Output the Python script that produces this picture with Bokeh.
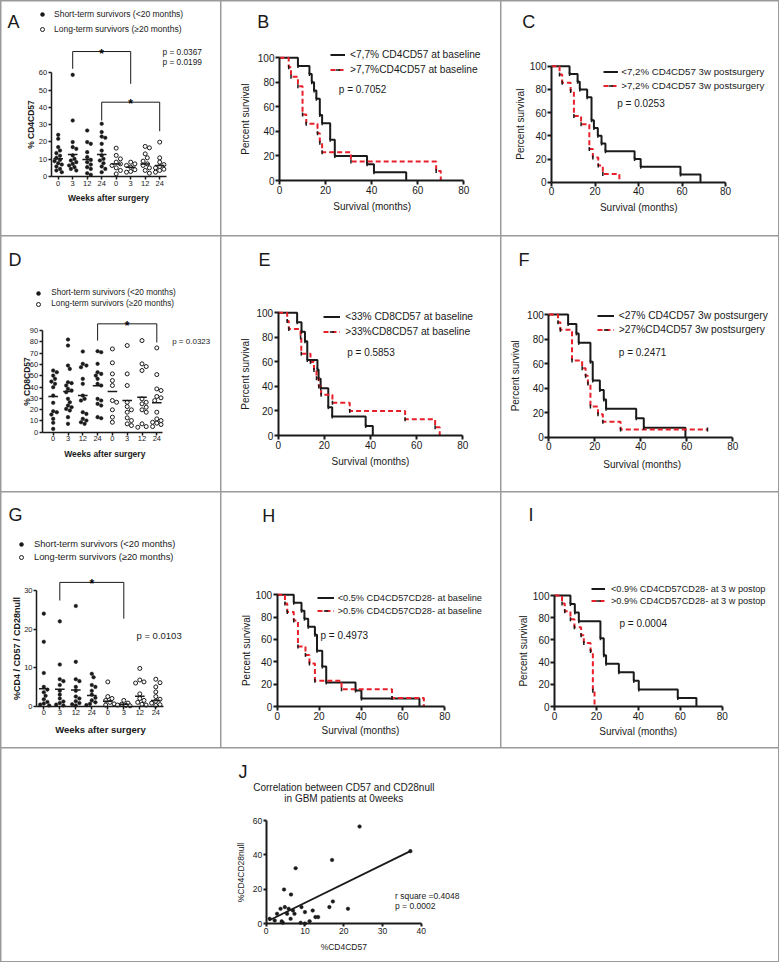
import numpy as np
from bokeh.plotting import figure
from bokeh.models import Label, Legend, LegendItem, FixedTicker, Range1d
from bokeh.layouts import row, column
from bokeh.embed import file_html
from bokeh.resources import INLINE

FONT = "Liberation Sans"
GREY = "#9a9a9a"
RED = "#e8202a"
INK = "#1a1a1a"

# ---------------- data ----------------
weeks = ["0", "3", "12", "24", "0", "3", "12", "24"]
scatter_legend = ["Short-term survivors (<20 months)", "Long-term survivors (\u226520 months)"]

# Panel A: % CD4CD57
a_short = [
    [24.1, 21.8, 17.0, 15.0, 13.5, 12.0, 10.8, 9.6, 8.9, 7.7, 6.9, 5.8, 4.4, 3.5, 2.5],
    [58.8, 32.4, 19.9, 17.0, 16.0, 12.2, 10.2, 9.3, 8.3, 7.3, 6.4, 5.4, 4.4, 3.5],
    [26.6, 19.9, 18.9, 14.1, 11.2, 9.6, 8.3, 6.9, 5.4, 4.4, 1.9, 1.0],
    [30.5, 25.7, 23.1, 22.4, 18.9, 15.0, 12.2, 10.2, 9.3, 7.7, 5.8, 4.4, 2.5],
]
a_long = [
    [16.4, 12.2, 10.2, 8.3, 7.3, 6.4, 5.0, 3.5, 1.5],
    [8.3, 7.3, 6.4, 5.4, 3.9, 2.9, 2.5],
    [17.4, 16.6, 13.1, 10.8, 8.9, 7.3, 6.4, 5.0, 3.5, 1.9],
    [19.9, 10.8, 8.3, 6.9, 5.8, 5.0, 4.2, 3.5, 2.5],
]
a_mean_short = [10.2, 12.7, 9.8, 12.7]
a_mean_long = [7.3, 5.4, 7.3, 6.4]
a_brackets = [[2, 6, 72.3, 62.3, 53.6], [4, 8, 43.0, 32.4, 26.2]]
a_pvalues = ["p = 0.0367", "p = 0.0199"]

# Panel D: % CD8CD57
d_short = [
    [54.6, 53.1, 50.1, 47.2, 44.8, 42.8, 39.8, 32.4, 26.0, 18.6, 17.7, 15.6, 11.8, 8.3, 2.9],
    [82.0, 76.7, 59.0, 56.0, 44.2, 43.4, 41.3, 38.3, 36.9, 35.4, 29.5, 26.5, 23.6, 22.1, 20.6, 19.2, 13.3, 7.4],
    [71.4, 60.5, 59.0, 57.5, 47.2, 42.8, 32.4, 29.5, 28.0, 17.7, 16.2, 11.8, 10.3, 8.8, 7.4],
    [71.7, 70.8, 60.5, 53.1, 51.6, 50.1, 47.2, 42.8, 41.3, 29.5, 28.0, 25.1, 23.6, 13.3, 12.4],
]
d_long = [
    [73.7, 61.4, 51.6, 45.7, 41.3, 28.0, 26.5, 19.8, 13.3, 8.8],
    [76.7, 51.6, 41.3, 26.5, 22.7, 19.8, 17.7, 12.7, 10.3, 7.4, 5.9],
    [81.1, 60.5, 58.1, 54.6, 29.5, 26.5, 25.1, 22.1, 19.8, 17.7, 7.4, 5.0, 4.4],
    [74.6, 51.0, 38.3, 36.9, 31.6, 30.4, 28.0, 17.7, 11.8, 10.3, 8.8, 8.0, 6.8, 5.0],
]
d_mean_short = [31.6, 36.0, 32.4, 41.0]
d_mean_long = [36.0, 28.0, 31.0, 26.0]
d_brackets = [[4, 8, 95.9, 81.0, 79.4]]
d_pvalues = ["p = 0.0323"]

# Panel G: %CD4 / CD57 / CD28null
g_short = [
    [24.0, 16.7, 8.6, 5.0, 4.3, 3.6, 2.7, 1.8, 1.1, 0.7, 0.4, 0.2],
    [22.0, 10.8, 7.0, 6.5, 5.5, 4.0, 3.0, 2.0, 1.2, 0.8, 0.4, 0.2],
    [26.0, 11.5, 7.0, 6.5, 5.0, 4.0, 2.5, 2.0, 1.3, 0.8, 0.5, 0.2],
    [8.4, 7.5, 5.5, 5.0, 4.0, 3.0, 2.2, 1.5, 1.0, 0.6, 0.3],
]
g_long = [
    [6.3, 2.5, 2.0, 1.5, 1.0, 0.6, 0.3],
    [1.5, 0.8, 0.5, 0.3, 0.2, 0.1],
    [9.8, 6.8, 6.3, 6.0, 3.2, 2.0, 1.5, 1.0, 0.5, 0.3],
    [7.0, 6.1, 5.0, 3.7, 2.5, 1.8, 1.3, 0.8, 0.4, 0.2],
]
g_mean_short = [4.5, 4.4, 4.2, 2.8]
g_mean_long = [1.3, 0.5, 2.6, 1.5]
g_brackets = [[2, 6, 32.1, 27.4, 22.7]]
g_pvalues = ["p = 0.0103"]

# Kaplan-Meier curves (time in months, percent survival)
b_lo_t = [0, 8, 13, 14, 15, 16, 17.5, 18.5, 22, 24, 38, 41, 55]
b_lo_s = [100, 93.3, 86.7, 80, 73.3, 66.7, 53.3, 46.7, 33.3, 20, 13.3, 6.7, 0]
b_hi_t = [0, 4, 5, 8, 10, 11.6, 16.5, 17.5, 18.5, 31, 68, 70]
b_hi_s = [100, 92.3, 84.6, 76.9, 53.8, 46.2, 38.5, 30.8, 23.1, 15.4, 7.7, 0]
b_labels = ["<7,7% CD4CD57 at baseline", ">7,7%CD4CD57 at baseline", "p = 0.7052"]

c_lo_t = [0, 8.3, 12, 13, 16.4, 18.4, 19.5, 21.3, 23, 24.8, 38.2, 41, 59.3, 68.5]
c_lo_s = [100, 93.3, 86.7, 80, 73.3, 53.3, 46.7, 40, 33.3, 26.7, 20, 13.3, 6.7, 0]
c_hi_t = [0, 3.7, 4.9, 8.8, 10.3, 13.6, 17.4, 19, 21.5, 23.6, 31.2]
c_hi_s = [100, 92.9, 85.7, 78.6, 57.1, 50, 28.6, 21.4, 14.3, 7.1, 0]
c_labels = ["<7,2% CD4CD57 3w postsurgery", ">7,2% CD4CD57 3w postsurgery", "p = 0.0253"]

e_lo_t = [0, 8.2, 10.1, 11.6, 12.6, 17, 17.5, 18.4, 21.7, 23.4, 37.9, 41]
e_lo_s = [100, 92.3, 84.6, 76.9, 61.5, 53.8, 46.2, 38.5, 23.1, 15.4, 7.7, 0]
e_hi_t = [0, 3.9, 4.6, 9.7, 10, 14, 15.5, 16.6, 17.6, 18.6, 23.5, 31, 55, 68, 70]
e_hi_s = [100, 93.3, 86.7, 80, 66.7, 60, 53.3, 46.7, 40, 33.3, 26.7, 20, 13.3, 6.7, 0]
e_labels = ["<33% CD8CD57 at baseline", ">33%CD8CD57 at baseline", "p = 0.5853"]

f_lo_t = [0, 8.4, 12, 13, 18.1, 19.1, 22.2, 23.9, 24.9, 38, 41.3, 59.4]
f_lo_s = [100, 92.3, 84.6, 76.9, 61.5, 46.2, 38.5, 30.8, 23.1, 15.4, 7.7, 0]
f_hi_t = [0, 4, 5, 10.1, 14.5, 16, 17, 18.1, 21.4, 23.5, 31.2, 69]
f_hi_s = [100, 93.75, 87.5, 62.5, 56.25, 50, 43.75, 25, 18.75, 12.5, 6.25, 6.25]
f_labels = ["<27% CD4CD57 3w postsurgery", ">27%CD4CD57 3w postsurgery", "p = 0.2471"]

h_lo_t = [0, 7.9, 11.6, 13, 14.8, 18, 19, 21.5, 23.4, 37.4, 40.2, 67.9]
h_lo_s = [100, 92.9, 85.7, 78.6, 71.4, 64.3, 50, 35.7, 21.4, 14.3, 7.1, 0]
h_hi_t = [0, 3.7, 4.8, 7.9, 9.9, 13.5, 15.4, 18, 30.7, 54.8, 70]
h_hi_s = [100, 92.3, 84.6, 76.9, 53.8, 46.2, 38.5, 23.1, 15.4, 7.7, 0]
h_labels = ["<0.5% CD4CD57CD28- at baseline", ">0.5% CD4CD57CD28- at baseline", "p = 0.4973"]

i_lo_t = [0, 7.6, 9.7, 11.6, 21.9, 23.5, 24.6, 30.7, 37.8, 40.2, 58.8, 67.7]
i_lo_s = [100, 92.3, 84.6, 76.9, 61.5, 46.2, 38.5, 30.8, 23.1, 15.4, 7.7, 0]
i_hi_t = [0, 3.6, 4.9, 7.6, 9.5, 12.7, 14, 17.2, 18.3, 19.1]
i_hi_s = [100, 92.9, 85.7, 78.6, 71.4, 64.3, 57.1, 50, 14.3, 0]
i_labels = ["<0.9% CD4CD57CD28- at 3 w postop", ">0.9% CD4CD57CD28- at 3 w postop", "p = 0.0004"]

# Panel J: correlation
j_x = [24.1, 37.2, 17.0, 7.6, 4.6, 6.4, 17.2, 16.3, 21.1, 3.7, 4.8, 5.8, 9.1, 6.9, 10.0,
       12.0, 2.8, 5.4, 7.3, 6.3, 0.9, 2.2, 4.0, 4.3, 8.9, 10.0, 11.2, 12.7, 13.4]
j_y = [56.5, 42.2, 37.1, 32.3, 19.9, 17.0, 13.0, 9.7, 8.7, 8.7, 9.7, 8.7, 9.7, 7.7, 6.8,
       7.7, 5.8, 5.8, 5.8, 2.9, 2.9, 1.9, 1.4, 0.6, 0.6, 0.2, 1.5, 3.9, 3.9]
j_fit_x = [0.7, 37.2]
j_fit_y = [1.9, 42.2]
j_title = ["Correlation between CD57 and CD28null", "in GBM patients at 0weeks"]
j_stats = ["r square =0.4048", "p = 0.0002"]

km_ticks_x = [0, 20, 40, 60, 80]
km_ticks_y = [0, 20, 40, 60, 80, 100]


# ---------------- helpers (positions in page pixels) ----------------
class Panel:
    def __init__(self, ox, oy, W, H, xmap, ymap):
        (self.xa, self.pxa), (xb, pxb) = xmap
        (self.ya, self.pya), (yb, pyb) = ymap
        self.kx = (xb - self.xa) / (pxb - self.pxa)
        self.ky = (yb - self.ya) / (pyb - self.pya)
        self.ox, self.oy, self.W, self.H = ox, oy, W, H
        p = figure(width=W, height=H,
                   x_range=Range1d(self.fx(ox), self.fx(ox + W)),
                   y_range=Range1d(self.fy(oy + H), self.fy(oy)),
                   min_border_left=0, min_border_right=0, min_border_top=0, min_border_bottom=0,
                   toolbar_location=None, output_backend="svg", tools="")
        p.outline_line_color = None
        p.grid.visible = False
        p.background_fill_color = "white"
        p.border_fill_color = "white"
        self.p = p

    def fx(self, px):
        return self.xa + (px - self.pxa) * self.kx

    def fy(self, py):
        return self.ya + (py - self.pya) * self.ky

    def text(self, px, py, s, size, align="left", bold=False, angle=0.0, baseline="middle"):
        self.p.add_layout(Label(x=self.fx(px), y=self.fy(py), text=s, text_font=FONT,
                                text_font_size=f"{size}px", text_align=align, text_baseline=baseline,
                                angle=angle, text_font_style="bold" if bold else "normal",
                                text_color=INK))

    def axes(self, xticks, yticks, xbounds, ybounds, xloc, yloc, tick_size, lw, tick_out, xlabels=None):
        xa, ya = self.p.xaxis[0], self.p.yaxis[0]
        xa.ticker = FixedTicker(ticks=xticks)
        ya.ticker = FixedTicker(ticks=yticks)
        xa.bounds = xbounds
        ya.bounds = ybounds
        xa.fixed_location = xloc
        ya.fixed_location = yloc
        for a in (xa, ya):
            a.axis_line_width = lw
            a.axis_line_color = INK
            a.major_tick_line_width = lw
            a.major_tick_line_color = INK
            a.major_tick_in = 0
            a.major_tick_out = tick_out
            a.minor_tick_line_color = None
            a.major_label_text_font = FONT
            a.major_label_text_font_size = f"{tick_size}px"
            a.major_label_text_color = INK
            a.major_label_standoff = 1
        if xlabels:
            xa.major_label_overrides = {t: l for t, l in zip(xticks, xlabels)}

    def legend(self, items, left, top, gw, gh, standoff, spacing, size):
        n = len(items)
        height = n * gh + (n - 1) * spacing
        lg = Legend(items=items, location=(left - self.ox, (self.oy + self.H) - (top + height)))
        lg.glyph_width = gw
        lg.glyph_height = gh
        lg.label_height = gh
        lg.label_width = 10
        lg.label_standoff = standoff
        lg.spacing = spacing
        lg.padding = 0
        lg.margin = 0
        lg.border_line_color = None
        lg.background_fill_alpha = 0
        lg.label_text_font = FONT
        lg.label_text_font_size = f"{size}px"
        lg.label_text_color = INK
        self.p.add_layout(lg)


def swarm(vals, ppu, d, cap):
    order = sorted(range(len(vals)), key=lambda i: -vals[i])
    placed = []
    offs = [0.0] * len(vals)
    cands = [0.0]
    j = 1
    while j * d / 2.0 <= cap:
        cands += [j * d / 2.0, -j * d / 2.0]
        j += 1
    for i in order:
        y = vals[i] * ppu
        best, best_gap = 0.0, -1.0
        for c in cands:
            gap = min([np.hypot(c - ox, y - oy) for ox, oy in placed] or [99.0])
            if gap >= d:
                best = c
                break
            if gap > best_gap:
                best, best_gap = c, gap
        offs[i] = best
        placed.append((best, y))
    return offs


def scatter_marks(P, cpx, ppu, short, long_, ms, ml, brackets, cap):
    p = P.p
    xs, ys, xl, yl = [], [], [], []
    for k, vals in enumerate(short):
        offs = swarm(vals, ppu, 3.6, cap)
        xs += [k + 1 + o / cpx for o in offs]
        ys += list(vals)
    for k, vals in enumerate(long_):
        offs = swarm(vals, ppu, 4.2, cap)
        xl += [k + 5 + o / cpx for o in offs]
        yl += list(vals)
    rs = p.scatter(xs, ys, size=3.6, fill_color=INK, line_color=INK, line_width=0.5)
    rl = p.scatter(xl, yl, size=4.0, fill_color="white", line_color=INK, line_width=1.0)
    cats = list(range(1, 9))
    means = list(ms) + list(ml)
    hw = 4.8 / cpx
    p.segment(x0=[c - hw for c in cats], y0=means, x1=[c + hw for c in cats], y1=means,
              line_width=1.5, color=INK)
    for c0, c1, top, l0, l1 in brackets:
        p.multi_line(xs=[[c0, c0, c1, c1]], ys=[[l0, top, top, l1]], line_width=1, color=INK)
        p.add_layout(Label(x=(c0 + c1) / 2.0, y=top - 2.0 / ppu, text="*", text_font=FONT,
                           text_font_size="12px", text_font_style="bold", text_align="center",
                           text_baseline="alphabetic", text_color="#000000"))
    return rs, rl


def build_scatter(ox, oy, W, H, c1px, cpx, y0px, ytop, ytoppx, axis_px, xend_px, yticks,
                  short, long_, ms, ml, brackets, cap, letter, letter_pos, leg, pvals, pv_pos, pv_size,
                  ylab, ylab_pos, ylab_size, xlab_pos, xlab_size, tick_size):
    P = Panel(ox, oy, W, H, ((1, c1px), (8, c1px + 7 * cpx)), ((0, y0px), (ytop, ytoppx)))
    ppu = (y0px - ytoppx) / ytop
    P.axes(list(range(1, 9)), yticks, (P.fx(axis_px), P.fx(xend_px)), (0, yticks[-1]),
           0, P.fx(axis_px), tick_size, 1.5, 3, weeks)
    rs, rl = scatter_marks(P, cpx, ppu, short, long_, ms, ml, brackets, cap)
    mcx, r1y, r2y, fs, tx = leg
    gw, gh = 10, 10
    P.legend([LegendItem(label=scatter_legend[0], renderers=[rs]),
              LegendItem(label=scatter_legend[1], renderers=[rl])],
             mcx - gw / 2.0, r1y - gh / 2.0, gw, gh, int(round(tx - mcx - gw / 2.0)),
             int(round(r2y - r1y - gh)), fs)
    P.text(letter_pos[0], letter_pos[1], letter, 18)
    for k, s in enumerate(pvals):
        P.text(pv_pos[0], pv_pos[1] + 10 * k, s, pv_size)
    P.text(ylab_pos[0], ylab_pos[1], ylab, ylab_size, align="center", bold=True, angle=np.pi / 2)
    P.text(xlab_pos[0], xlab_pos[1], "Weeks after surgery", xlab_size, align="center", bold=True)
    return P.p


def build_km(ox, oy, W, H, x0px, x80px, y0px, y100px, lo_t, lo_s, hi_t, hi_s, labels,
             letter, letter_pos, leg, leg_font, pv_pos, ylab_pos, xlab_pos):
    P = Panel(ox, oy, W, H, ((0, x0px), (80, x80px)), ((0, y0px), (100, y100px)))
    p = P.p
    P.axes(km_ticks_x, km_ticks_y, (0, 80), (0, 100), 0, 0, 10, 2, 4)
    r1 = p.step(lo_t, lo_s, mode="after", line_color=INK, line_width=2)
    r2 = p.step(hi_t, hi_s, mode="after", line_color=RED, line_width=2, line_dash="5 3")
    m1 = p.scatter([a for a, b in zip(lo_t[1:], lo_s[1:]) if b > 0], [b for b in lo_s[1:] if b > 0],
                   marker="dash", angle=np.pi / 2, size=4, line_color=INK, line_width=1.5)
    m2 = p.scatter([a for a, b in zip(hi_t[1:], hi_s[1:]) if b > 0], [b for b in hi_s[1:] if b > 0],
                   marker="dash", angle=np.pi / 2, size=4, line_color=INK, line_width=1.5)
    lx0, lx1, tx, r1y, r2y = leg
    gh = 11
    P.legend([LegendItem(label=labels[0], renderers=[r1, m1]),
              LegendItem(label=labels[1], renderers=[r2, m2])],
             lx0, r1y - gh / 2.0, int(round(lx1 - lx0)), gh, int(round(tx - lx1)),
             int(round(r2y - r1y - gh)), leg_font)
    P.text(pv_pos[0], pv_pos[1], labels[2], 10)
    P.text(letter_pos[0], letter_pos[1], letter, 18)
    P.text(ylab_pos[0], ylab_pos[1], "Percent survival", 10, align="center", angle=np.pi / 2)
    P.text(xlab_pos[0], xlab_pos[1], "Survival (months)", 10, align="center")
    return p


# ---------------- panels ----------------
pA = build_scatter(1, 1, 219, 234, 57.7, 14.5, 176, 60, 72.3, 50.7, 165.7, list(range(0, 61, 10)),
                   a_short, a_long, a_mean_short, a_mean_long, a_brackets, 6.0, "A", (7, 21.5),
                   (42, 14.3, 29, 8.5, 54), a_pvalues, (162, 51), 8.3,
                   "% CD4CD57", (30, 124), 8.5, (108, 197), 8.5, 7.5)
pD = build_scatter(1, 236, 219, 255, 52.7, 14.8, 431.7, 90, 330, 41.7, 161.7, list(range(0, 91, 10)),
                   d_short, d_long, d_mean_short, d_mean_long, d_brackets, 6.0, "D", (8, 259),
                   (38.3, 292.7, 304, 8.2, 51.7), d_pvalues, (171.7, 341), 8.0,
                   "% CD8CD57", (26.7, 381), 8.5, (104.3, 453.3), 8.5, 7.5)
pG = build_scatter(1, 492, 219, 255, 43.3, 16.0, 705.7, 30, 590, 36, 163.3, [0, 10, 20, 30],
                   g_short, g_long, g_mean_short, g_mean_long, g_brackets, 7.5, "G", (8, 514.5),
                   (21, 544, 556.7, 9.3, 34.3), g_pvalues, (136, 635), 9.5,
                   "%CD4 / CD57 / CD28null", (16, 648), 9, (100, 729), 9.5, 7.5)

pB = build_km(221, 1, 279, 234, 279, 463.3, 180, 57.3, b_lo_t, b_lo_s, b_hi_t, b_hi_s, b_labels,
              "B", (256.7, 21.5), (330, 345, 350, 54.3, 69.3), 10.2, (338.3, 89.3), (245, 118.7), (371.7, 206))
pC = build_km(501, 1, 277, 234, 551, 725, 181.7, 65.7, c_lo_t, c_lo_s, c_hi_t, c_hi_s, c_labels,
              "C", (521.7, 21.5), (603.3, 618.3, 621.7, 71, 85), 9.7, (616.7, 102.7), (520, 123.7), (638.3, 206.7))
pE = build_km(221, 236, 279, 255, 277.7, 462.3, 435, 312.3, e_lo_t, e_lo_s, e_hi_t, e_hi_s, e_labels,
              "E", (258, 259), (323.3, 340, 345, 316, 330.7), 10.2, (346.7, 352.3), (245, 373.7), (370, 461))
pF = build_km(501, 236, 277, 255, 548.3, 732.3, 436.7, 314, f_lo_t, f_lo_s, f_hi_t, f_hi_s, f_labels,
              "F", (518, 259.5), (596.7, 613.3, 618.3, 315.7, 330), 10.3, (618.3, 351.7), (515, 375.3), (641.7, 464))
pH = build_km(221, 492, 279, 255, 276.7, 444.3, 706, 594.3, h_lo_t, h_lo_s, h_hi_t, h_hi_s, h_labels,
              "H", (261.7, 515.5), (316.7, 333.3, 337.7, 597.7, 610.7), 9.2, (320, 635), (246, 650), (360, 730))
pI = build_km(501, 492, 277, 255, 554, 721.7, 706, 595, i_lo_t, i_lo_s, i_hi_t, i_hi_s, i_labels,
              "I", (528, 514), (591, 605, 611, 588.7, 600.7), 9.2, (619, 623.3), (523.3, 650.5), (637.7, 730.7))

# ---------------- panel J ----------------
PJ = Panel(1, 748, 777, 213, ((0, 265.7), (40, 420.7)), ((0, 923.3), (60, 820)))
PJ.axes([0, 10, 20, 30, 40], [0, 20, 40, 60], (0, 40), (0, 60), 0, 0, 8.5, 2, 3)
PJ.p.line(j_fit_x, j_fit_y, line_width=1.8, color=INK)
PJ.p.scatter(j_x, j_y, size=3.6, fill_color=INK, line_color=INK, line_width=0.5)
PJ.text(238, 771, "J", 18)
PJ.text(343.3, 786.7, j_title[0], 10, align="center")
PJ.text(343.3, 798.3, j_title[1], 10, align="center")
PJ.text(394.5, 895, j_stats[0], 8.5)
PJ.text(394.5, 905.5, j_stats[1], 8.5)
PJ.text(240, 872, "%CD4CD28null", 8.5, align="center", angle=np.pi / 2)
PJ.text(343.3, 946.7, "%CD4CD57", 8.5, align="center")
pJ = PJ.p

# ---------------- layout ----------------
r1 = row(pA, pB, pC, spacing=1, styles={"background-color": GREY})
r2 = row(pD, pE, pF, spacing=1, styles={"background-color": GREY})
r3 = row(pG, pH, pI, spacing=1, styles={"background-color": GREY})
page = column(r1, r2, r3, pJ, spacing=1, styles={"background-color": GREY, "padding": "1px"})

open("out.html", "w").write(file_html(page, INLINE, title="CD57 CD28null survival panels"))
